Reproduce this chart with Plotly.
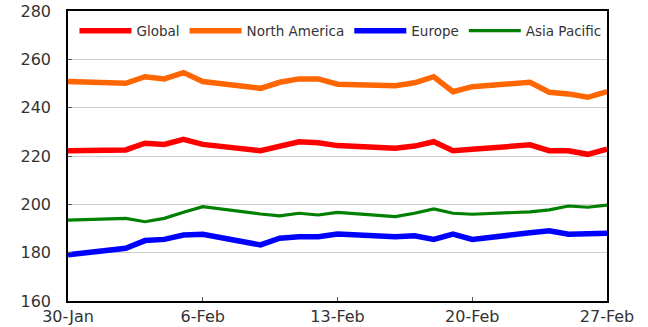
import plotly.graph_objects as go

dates = ["2017-01-30", "2017-02-02", "2017-02-03", "2017-02-04", "2017-02-05", "2017-02-06",
         "2017-02-09", "2017-02-10", "2017-02-11", "2017-02-12", "2017-02-13",
         "2017-02-16", "2017-02-17", "2017-02-18", "2017-02-19", "2017-02-20",
         "2017-02-23", "2017-02-24", "2017-02-25", "2017-02-26", "2017-02-27"]

global_vals = [222.2, 222.5, 225.3, 224.8, 226.9, 224.8, 222.2, 224.3, 225.9, 225.5, 224.3,
               223.2, 224.1, 225.9, 222.2, 222.8, 224.6, 222.2, 222.2, 220.7, 222.8]
north_america = [250.8, 250.1, 252.8, 251.9, 254.5, 250.8, 248.0, 250.5, 251.9, 251.9, 249.7,
                 249.1, 250.3, 252.8, 246.6, 248.7, 250.5, 246.4, 245.7, 244.3, 246.6]
europe = [179.1, 181.8, 185.0, 185.5, 187.3, 187.6, 183.2, 186.0, 186.6, 186.6, 187.7,
          186.6, 187.0, 185.5, 187.7, 185.5, 188.2, 189.1, 187.6, 188.0, 188.0]
asia_pacific = [193.5, 194.2, 192.8, 194.2, 196.7, 199.0, 196.0, 195.2, 196.3, 195.6, 196.7,
                194.9, 196.3, 198.1, 196.3, 195.9, 196.9, 197.7, 199.3, 198.8, 199.7]

tick_dates = ["2017-01-30", "2017-02-06", "2017-02-13", "2017-02-20", "2017-02-27"]
tick_labels = ["30-Jan", "6-Feb", "13-Feb", "20-Feb", "27-Feb"]
y_ticks = [160, 180, 200, 220, 240, 260, 280]

series = [
    ("Global", global_vals, "#FF0000", 5.5),
    ("North America", north_america, "#FF6600", 5.5),
    ("Europe", europe, "#0000FF", 5.5),
    ("Asia Pacific", asia_pacific, "#008000", 3.2),
]

fig = go.Figure()
for name, vals, color, w in series:
    fig.add_trace(go.Scatter(x=dates, y=vals, mode="lines", name=name,
                             line=dict(color=color, width=w), hoverinfo="skip"))

font_family = "DejaVu Sans"
fig.update_layout(
    width=648, height=327,
    margin=dict(l=68, r=41, t=11, b=26),
    paper_bgcolor="white", plot_bgcolor="white",
    showlegend=True,
    legend=dict(orientation="h", x=0.012, y=0.985, xanchor="left", yanchor="top",
                font=dict(family=font_family, size=13.5, color="#333333"),
                itemwidth=52, bgcolor="rgba(0,0,0,0)", tracegroupgap=0),
    xaxis=dict(type="date", range=["2017-01-30", "2017-02-27"],
               tickvals=tick_dates, ticktext=tick_labels, automargin=False,
               showgrid=False, zeroline=False,
               showline=True, linecolor="#000000", linewidth=1.5, mirror=True,
               ticks="inside", ticklen=4, tickcolor="#555555",
               tickfont=dict(family=font_family, size=16, color="#333333")),
    yaxis=dict(range=[160, 280], tickvals=y_ticks, automargin=False,
               showgrid=True, gridcolor="#D0D0D0", gridwidth=1, zeroline=False,
               showline=True, linecolor="#000000", linewidth=1.5, mirror=True,
               ticks="inside", ticklen=4, tickcolor="#555555",
               ticklabelstandoff=12,
               tickfont=dict(family=font_family, size=16, color="#333333")),
)

fig.write_html("out.html")
